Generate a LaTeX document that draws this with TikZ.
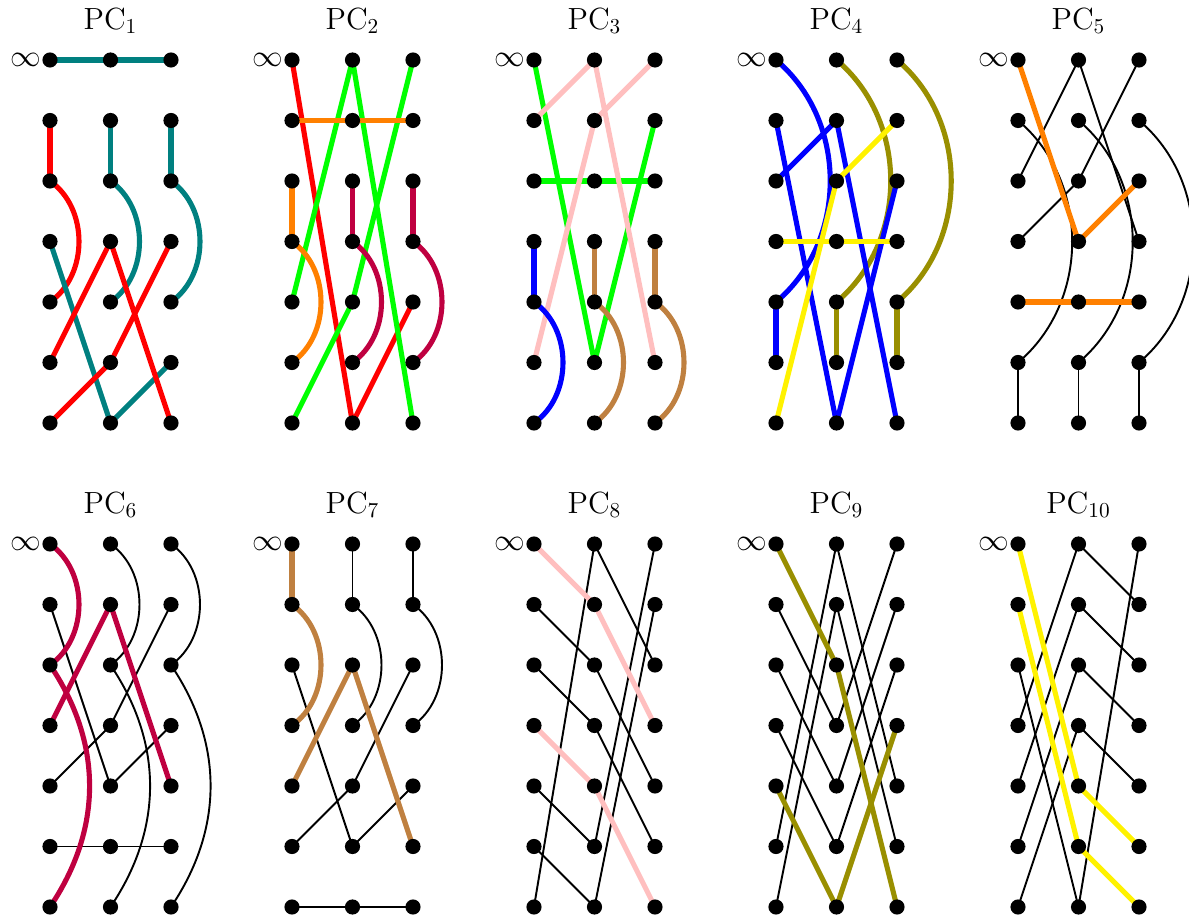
\documentclass[tikz,border=0pt]{standalone}
\usetikzlibrary{backgrounds}
\definecolor{myolive}{RGB}{153,143,0}
\tikzset{
 dot/.style={circle,fill=black,inner sep=0pt,minimum size=0.25cm},
 ttl/.style={anchor=base,inner sep=0pt,font=\fontsize{14.4}{17}\selectfont},
 inf/.style={anchor=east,inner sep=0pt,font=\fontsize{14.4}{17}\selectfont},
 cl/.style={line width=2.4pt,line join=round},
 bk/.style={line width=0.9pt,black,line join=round},
}
\newcommand\myzig[5]{\draw[#2] (P#1-0-#3.center) -- (P#1-1-#4.center) -- (P#1-2-#5.center);}
\newcommand\myhor[3]{\draw[#2] (P#1-0-#3.center) -- (P#1-1-#3.center) -- (P#1-2-#3.center);}
\newcommand\myver[4]{\draw[#2] (P#1-#3-#4.center) -- (P#1-#3-\the\numexpr#4+1\relax.center);}
\newcommand\myarc[6]{\draw[#2] (P#1-#3-#4.center) to[bend left=#6] (P#1-#3-#5.center);}
\begin{document}
\begin{tikzpicture}
\useasboundingbox (-0.8264,-14.2149) rectangle (18.8264,0.9917);
\foreach \k/\ox/\oy in {1/0/0,2/4/0,3/8/0,4/12/0,5/16/0,6/0/-8,7/4/-8,8/8/-8,9/12/-8,10/16/-8}{
  \foreach \c in {0,1,2}{
    \foreach \r in {0,...,6}{
      \node[dot] (P\k-\c-\r) at (\ox+\c,\oy-\r) {};
    }
  }
  \node[ttl] (T\k) at (\ox+1,\oy+0.512) {$\mathrm{PC}_{\k}$};
  \node[inf] (I\k) at (\ox-0.14,\oy) {$\infty$};
}
\begin{scope}[on background layer]
% PC1
\myhor{1}{cl,teal}{0}
\myver{1}{cl,red}{0}{1} \myarc{1}{cl,red}{0}{2}{4}{55}
\myver{1}{cl,teal}{1}{1} \myarc{1}{cl,teal}{1}{2}{4}{55}
\myver{1}{cl,teal}{2}{1} \myarc{1}{cl,teal}{2}{2}{4}{55}
\myzig{1}{cl,teal}{3}{6}{5}
\myzig{1}{cl,red}{5}{3}{6}
\myzig{1}{cl,red}{6}{5}{3}
% PC2
\myzig{2}{cl,red}{0}{6}{4}
\myzig{2}{cl,green}{4}{0}{6}
\myzig{2}{cl,green}{6}{4}{0}
\myhor{2}{cl,orange}{1}
\myver{2}{cl,orange}{0}{2} \myarc{2}{cl,orange}{0}{3}{5}{55}
\myver{2}{cl,purple}{1}{2} \myarc{2}{cl,purple}{1}{3}{5}{55}
\myver{2}{cl,purple}{2}{2} \myarc{2}{cl,purple}{2}{3}{5}{55}
% PC3
\myzig{3}{cl,green}{0}{5}{1}
\myhor{3}{cl,green}{2}
\myzig{3}{cl,pink}{1}{0}{5}
\myzig{3}{cl,pink}{5}{1}{0}
\myver{3}{cl,blue}{0}{3} \myarc{3}{cl,blue}{0}{4}{6}{55}
\myver{3}{cl,brown}{1}{3} \myarc{3}{cl,brown}{1}{4}{6}{55}
\myver{3}{cl,brown}{2}{3} \myarc{3}{cl,brown}{2}{4}{6}{55}
% PC4
\myarc{4}{cl,blue}{0}{0}{4}{50} \myver{4}{cl,blue}{0}{4}
\myarc{4}{cl,myolive}{1}{0}{4}{50} \myver{4}{cl,myolive}{1}{4}
\myarc{4}{cl,myolive}{2}{0}{4}{50} \myver{4}{cl,myolive}{2}{4}
\myzig{4}{cl,blue}{1}{6}{2}
\myzig{4}{cl,blue}{2}{1}{6}
\myhor{4}{cl,yellow}{3}
\myzig{4}{cl,yellow}{6}{2}{1}
% PC5
\myarc{5}{bk}{0}{1}{5}{50} \myver{5}{bk}{0}{5}
\myarc{5}{bk}{1}{1}{5}{50} \myver{5}{bk}{1}{5}
\myarc{5}{bk}{2}{1}{5}{50} \myver{5}{bk}{2}{5}
\myzig{5}{bk}{2}{0}{3}
\myzig{5}{bk}{3}{2}{0}
\myzig{5}{cl,orange}{0}{3}{2}
\myhor{5}{cl,orange}{4}
% PC6
\myarc{6}{bk}{1}{0}{2}{55} \myarc{6}{bk}{1}{2}{6}{34}
\myarc{6}{bk}{2}{0}{2}{55} \myarc{6}{bk}{2}{2}{6}{34}
\myzig{6}{bk}{1}{4}{3}
\myzig{6}{bk}{4}{3}{1}
\myhor{6}{bk}{5}
\myarc{6}{cl,purple}{0}{0}{2}{55} \myarc{6}{cl,purple}{0}{2}{6}{34}
\myzig{6}{cl,purple}{3}{1}{4}
% PC7
\myver{7}{bk}{1}{0} \myarc{7}{bk}{1}{1}{3}{55}
\myver{7}{bk}{2}{0} \myarc{7}{bk}{2}{1}{3}{55}
\myzig{7}{bk}{2}{5}{4}
\myzig{7}{bk}{5}{4}{2}
\myhor{7}{bk}{6}
\myver{7}{cl,brown}{0}{0} \myarc{7}{cl,brown}{0}{1}{3}{55}
\myzig{7}{cl,brown}{4}{2}{5}
% PC8
\myzig{8}{bk}{1}{2}{4}
\myzig{8}{bk}{2}{3}{5}
\myzig{8}{bk}{4}{5}{0}
\myzig{8}{bk}{5}{6}{1}
\myzig{8}{bk}{6}{0}{2}
\myzig{8}{cl,pink}{0}{1}{3}
\myzig{8}{cl,pink}{3}{4}{6}
% PC9
\myzig{9}{bk}{1}{3}{0}
\myzig{9}{bk}{2}{4}{1}
\myzig{9}{bk}{3}{5}{2}
\myzig{9}{bk}{5}{0}{4}
\myzig{9}{bk}{6}{1}{5}
\myzig{9}{cl,myolive}{0}{2}{6}
\myzig{9}{cl,myolive}{4}{6}{3}
% PC10
\myzig{10}{bk}{2}{6}{0}
\myzig{10}{bk}{3}{0}{1}
\myzig{10}{bk}{4}{1}{2}
\myzig{10}{bk}{5}{2}{3}
\myzig{10}{bk}{6}{3}{4}
\myzig{10}{cl,yellow}{0}{4}{5}
\myzig{10}{cl,yellow}{1}{5}{6}
\end{scope}
\end{tikzpicture}
\end{document}
